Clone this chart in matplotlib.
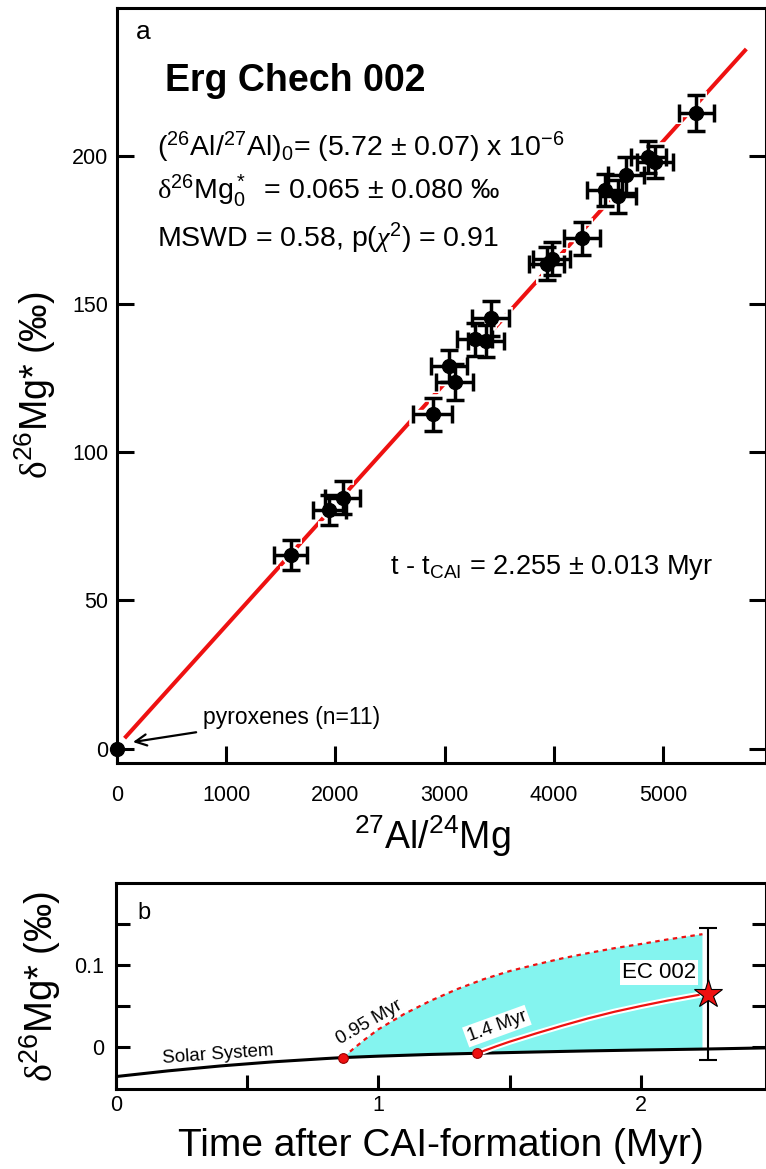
import numpy as np
import matplotlib
matplotlib.use("Agg")
import matplotlib.pyplot as plt
import matplotlib.patheffects as pe

# ---- panel a data: Al-Mg isochron of Erg Chech 002 ----
al_mg = [0, 1591, 1944, 2067, 2890, 3039, 3094, 3277, 3377, 3423,
         3933, 3978, 4258, 4466, 4582, 4658, 4862, 4923, 5302]
d26mg = [0.0, 65.3, 80.4, 84.6, 112.8, 129.0, 123.7, 138.0, 137.5, 145.1,
         163.6, 165.3, 172.1, 188.4, 186.3, 193.4, 199.6, 197.9, 214.4]
al_mg_err = [0, 150, 150, 160, 175, 165, 170, 160, 165, 170,
             160, 165, 165, 160, 165, 165, 160, 165, 160]
d26mg_err = [0, 5.0, 5.0, 5.5, 5.5, 5.5, 6.0, 5.5, 5.5, 6.0,
             5.5, 5.5, 5.5, 5.5, 5.5, 6.0, 5.5, 5.5, 6.0]
fit_x = [72, 5760]
fit_y = [3.5, 236.0]

# ---- panel b data: Mg isotope evolution ----
ss_t = [0, 0.2, 0.4, 0.6, 0.8, 0.867, 1.0, 1.2, 1.377, 1.6, 1.8, 2.0, 2.25, 2.48]
ss_v = [-0.0355, -0.0285, -0.0225, -0.0175, -0.0135, -0.0123, -0.0106, -0.0085,
        -0.0071, -0.0055, -0.0042, -0.0031, -0.0019, -0.0005]
up_t = [0.867, 0.9, 0.95, 1.0, 1.1, 1.2, 1.3, 1.4, 1.5, 1.6, 1.7, 1.8, 1.9,
        2.0, 2.1, 2.235]
up_v = [-0.0123, -0.003, 0.010, 0.022, 0.041, 0.057, 0.071, 0.083, 0.093, 0.101,
        0.1085, 0.115, 0.121, 0.126, 0.1315, 0.138]
low_t = [0.867, 1.0, 1.2, 1.377, 1.6, 1.8, 2.0, 2.235]
low_v = [-0.0123, -0.0106, -0.0085, -0.0071, -0.0055, -0.0042, -0.0031, -0.0020]
mid_t = [1.377, 1.45, 1.5, 1.6, 1.7, 1.8, 1.9, 2.0, 2.1, 2.22]
mid_v = [-0.0071, 0.0015, 0.007, 0.017, 0.0265, 0.0355, 0.0435, 0.0505, 0.057, 0.064]
start_t = [0.867, 1.377]
start_v = [-0.0123, -0.0071]
ec_t, ec_v, ec_err = 2.255, 0.065, 0.080

base = "Liberation Sans"
plt.rcParams["font.family"] = [base, "DejaVu Sans"]
plt.rcParams["mathtext.fontset"] = "custom"
plt.rcParams["mathtext.rm"] = base
plt.rcParams["mathtext.it"] = "Liberation Serif:italic"
plt.rcParams["mathtext.sf"] = "Liberation Serif"
plt.rcParams["mathtext.bf"] = base + ":bold"

RED = "#ee1111"
DELTA = r"\mathsf{\delta}"
fig = plt.figure(figsize=(7.66, 11.69), dpi=100)
W, H = 766.0, 1169.0

def px_axes(x0, y0, x1, y1):
    # pixel box (top-left origin) -> figure axes
    return fig.add_axes([x0 / W, 1 - y1 / H, (x1 - x0) / W, (y1 - y0) / H])

def style(ax, length):
    for s in ax.spines.values():
        s.set_linewidth(2.2)
    ax.tick_params(which="both", direction="in", length=length, width=2.2,
                   labelsize=15.5, right=True, top=False)

# ================= panel a =================
ax = px_axes(116.7, 7.5, 766, 762.5)
style(ax, 12.5)
ax.tick_params(axis="x", pad=16)
ax.tick_params(axis="y", pad=6)
ax.set_xlim(0, 5940)
ax.set_ylim(-4.7, 250)
ax.set_xticks([0, 1000, 2000, 3000, 4000, 5000])
ax.set_yticks([0, 50, 100, 150, 200])

ax.plot(fit_x, fit_y, color=RED, lw=2.9, solid_capstyle="butt", zorder=1)
# white halo under the error crosses, then the black crosses
ax.errorbar(al_mg[1:], d26mg[1:], xerr=al_mg_err[1:], yerr=d26mg_err[1:],
            fmt="o", ms=13, color="white", ecolor="white", elinewidth=6,
            capsize=8, capthick=5.5, zorder=2)
ax.errorbar(al_mg[1:], d26mg[1:], xerr=al_mg_err[1:], yerr=d26mg_err[1:],
            fmt="o", ms=10, color="black", ecolor="black", elinewidth=2.5,
            capsize=6.5, capthick=2.5, zorder=3)
ax.plot(al_mg[0], d26mg[0], "o", ms=10, color="black", clip_on=False, zorder=4)

ax.text(0.0297, 0.9675, "a", transform=ax.transAxes, fontsize=19, va="center")
ax.text(0.075, 0.903, "Erg Chech 002", transform=ax.transAxes, fontsize=27,
        fontweight="bold", va="center")
ax.text(0.062, 0.815,
        r"($\mathrm{^{26}}$Al/$\mathrm{^{27}}$Al)$\mathrm{_0}$= (5.72 ± 0.07) x 10$\mathrm{^{-6}}$",
        transform=ax.transAxes, fontsize=20.5, va="center")
ax.text(0.062, 0.757,
        r"$" + DELTA + r"\mathrm{^{26}Mg^*_0}$  = 0.065 ± 0.080 ‰",
        transform=ax.transAxes, fontsize=20.5, va="center")
ax.text(0.062, 0.694, r"MSWD = 0.58, p($\chi\mathrm{^2}$) = 0.91",
        transform=ax.transAxes, fontsize=20.5, va="center")
ax.text(0.421, 0.2585, r"t - t$\mathrm{_{CAI}}$ = 2.255 ± 0.013 Myr",
        transform=ax.transAxes, fontsize=19.5, va="center")
ax.annotate("pyroxenes (n=11)", xy=(149, 2.2), xytext=(790, 10.5),
            fontsize=16.5, va="center",
            arrowprops=dict(arrowstyle="->", lw=1.6, color="black",
                            mutation_scale=20, shrinkA=3, shrinkB=0))

ax.set_xlabel(r"$\mathrm{^{27}Al/^{24}Mg}$", fontsize=27)
ax.xaxis.set_label_coords(0.4856, -0.068)
ax.set_ylabel(r"$" + DELTA + r"\mathrm{^{26}Mg}$* (‰)", fontsize=27, labelpad=10)

# ================= panel b =================
bx = px_axes(115.7, 883.3, 766, 1088.5)
style(bx, 10)
bx.tick_params(axis="x", pad=5)
bx.tick_params(axis="y", pad=8)
bx.set_xlim(0, 2.477)
bx.set_ylim(-0.05, 0.2)
bx.set_xticks([0, 1, 2])
bx.set_xticks([0.5, 1.5], minor=True)
bx.set_yticks([0, 0.1])
bx.set_yticklabels(["0", "0.1"])
bx.set_yticks([0.05, 0.15], minor=True)

bx.fill(up_t + low_t[::-1], up_v + low_v[::-1], color="#84f4ef", lw=0, zorder=1)
bx.plot(ss_t, ss_v, color="black", lw=2.2, zorder=2)
bx.plot(up_t, up_v, color=RED, lw=1.6, ls=(0, (2, 2)), zorder=3)
bx.plot(mid_t, mid_v, color=RED, lw=1.6, zorder=3,
        path_effects=[pe.withStroke(linewidth=4.5, foreground="white")])
bx.plot(start_t, start_v, "o", ms=7, color=RED, mec="#990000", mew=0.8, zorder=5)
bx.errorbar(ec_t, ec_v, yerr=ec_err, fmt="none", ecolor="black", elinewidth=1.5,
            capsize=6.5, capthick=1.5, zorder=4)
bx.plot(ec_t, ec_v, "*", ms=21, color=RED, mec="black", mew=0.8, zorder=6)

bx.text(0.081, 0.164, "b", fontsize=17, va="center")
bx.text(0.39, -0.0085, "Solar System", fontsize=13.5, rotation=4,
        ha="center", va="center")
bx.text(0.965, 0.031, "0.95 Myr", fontsize=13.5, rotation=30,
        ha="center", va="center")
bx.text(1.452, 0.026, "1.4 Myr", fontsize=13.5, rotation=20, ha="center", va="center",
        bbox=dict(facecolor="white", edgecolor="none", pad=1.5))
bx.text(2.071, 0.091, "EC 002", fontsize=16, ha="center", va="center",
        bbox=dict(facecolor="white", edgecolor="none", pad=1.5))

bx.set_xlabel("Time after CAI-formation (Myr)", fontsize=28, labelpad=8)
bx.set_ylabel(r"$" + DELTA + r"\mathrm{^{26}Mg}$* (‰)", fontsize=27.5, labelpad=8)

fig.savefig("out.png", dpi=100)
